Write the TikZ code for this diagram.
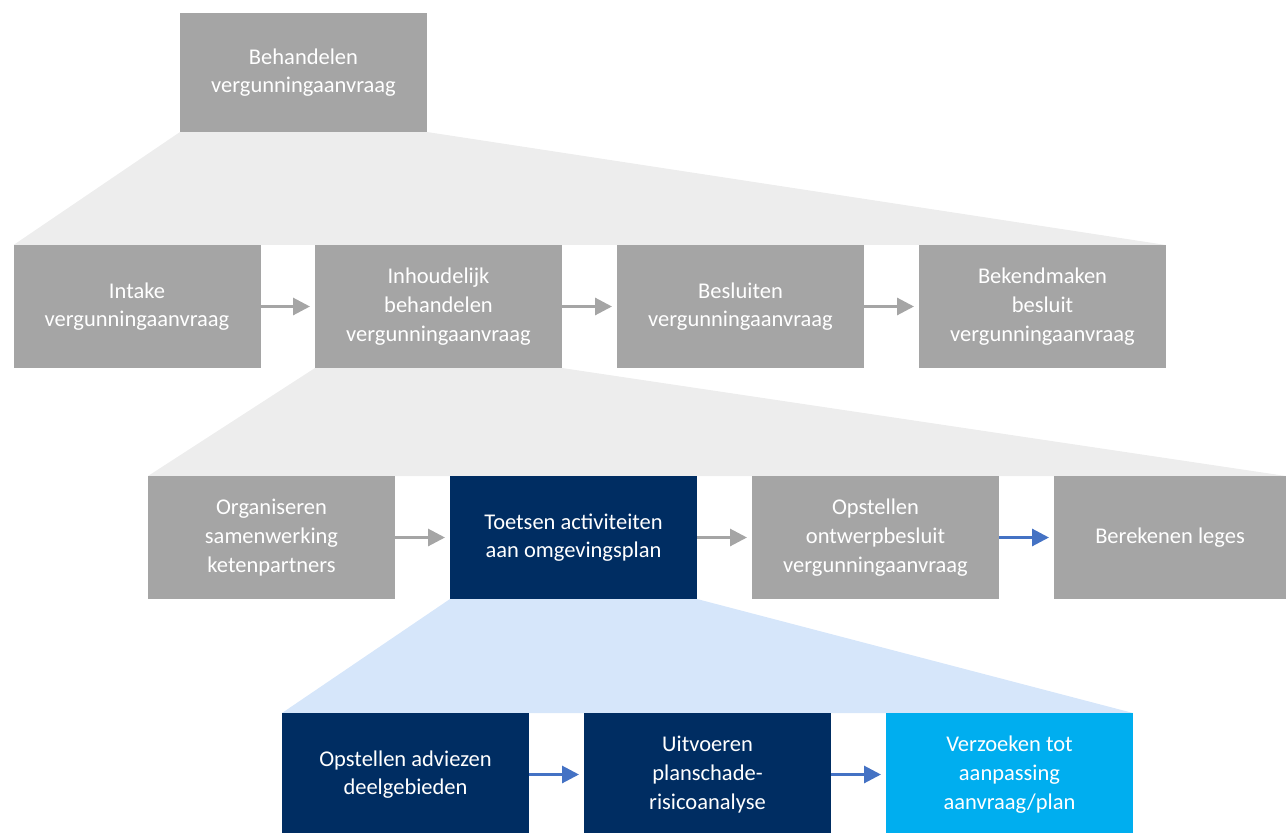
\documentclass[tikz,border=0pt]{standalone}
\usepackage{fontspec}
\setmainfont{Carlito}
\usetikzlibrary{arrows.meta,backgrounds}

\definecolor{boxgray}{HTML}{A5A5A5}
\definecolor{fangray}{HTML}{EDEDED}
\definecolor{navy}{HTML}{002D62}
\definecolor{skyblue}{HTML}{00AEEF}
\definecolor{fanblue}{HTML}{D6E6FA}
\definecolor{arrowblue}{HTML}{4472C4}

\tikzset{
  stepbox/.style={fill=boxgray, text=white, align=center, inner sep=0pt, outer sep=0pt,
    minimum width=4.94cm, minimum height=2.46cm,
    font=\fontsize{12.8}{16.3}\selectfont},
  darkbox/.style={stepbox, fill=navy},
  lightbox/.style={stepbox, fill=skyblue},
  grayflow/.style={draw=boxgray, line width=1.7pt, shorten >=0.1cm,
    -{Triangle[length=0.34cm,width=0.34cm]}},
  blueflow/.style={grayflow, draw=arrowblue}
}

\begin{document}
\begin{tikzpicture}

    % Canvas and clipping
    \useasboundingbox (0,0) rectangle (25.72,-16.66);
    \clip (0,0) rectangle (25.72,-16.66);

    % Level 0
    \node[stepbox, minimum height=2.38cm] (behandelen) at (6.07,-1.45) {Behandelen\\vergunningaanvraag};

    % Level 1
    \node[stepbox] (intake) at (2.74,-6.13) {Intake\\vergunningaanvraag};
    \node[stepbox] (inhoud) at (8.77,-6.13) {Inhoudelijk\\behandelen\\vergunningaanvraag};
    \node[stepbox] (besluiten) at (14.81,-6.13) {Besluiten\\vergunningaanvraag};
    \node[stepbox] (bekend) at (20.85,-6.13) {Bekendmaken\\besluit\\vergunningaanvraag};

    % Level 2
    \node[stepbox] (organiseren) at (5.43,-10.75) {Organiseren\\samenwerking\\ketenpartners};
    \node[darkbox] (toetsen) at (11.47,-10.75) {Toetsen activiteiten\\aan omgevingsplan};
    \node[stepbox] (ontwerp) at (17.51,-10.75) {Opstellen\\ontwerpbesluit\\vergunningaanvraag};
    \node[stepbox, minimum width=4.64cm] (leges) at (23.40,-10.75) {Berekenen leges};

    % Level 3
    \node[darkbox] (adviezen) at (8.11,-15.49) {Opstellen adviezen\\deelgebieden};
    \node[darkbox] (planschade) at (14.15,-15.49) {Uitvoeren\\planschade-\\risicoanalyse};
    \node[lightbox] (verzoeken) at (20.19,-15.49) {Verzoeken tot\\aanpassing\\aanvraag/plan};

    % Zoom fans behind the boxes
    \begin{pgfonlayer}{background}
        \fill[fangray] (behandelen.south west) -- (behandelen.south east)
            -- (bekend.north east) -- (intake.north west) -- cycle;
        \fill[fangray] (inhoud.south west) -- (inhoud.south east)
            -- (leges.north east) -- (organiseren.north west) -- cycle;
        \fill[fanblue] (toetsen.south west) -- (toetsen.south east)
            -- (verzoeken.north east) -- (adviezen.north west) -- cycle;
    \end{pgfonlayer}

    % Flow arrows
    \draw[grayflow] (intake) -- (inhoud);
    \draw[grayflow] (inhoud) -- (besluiten);
    \draw[grayflow] (besluiten) -- (bekend);
    \draw[grayflow] (organiseren) -- (toetsen);
    \draw[grayflow] (toetsen) -- (ontwerp);
    \draw[blueflow] (ontwerp) -- (leges);
    \draw[blueflow] (adviezen) -- (planschade);
    \draw[blueflow] (planschade) -- (verzoeken);

\end{tikzpicture}
\end{document}
